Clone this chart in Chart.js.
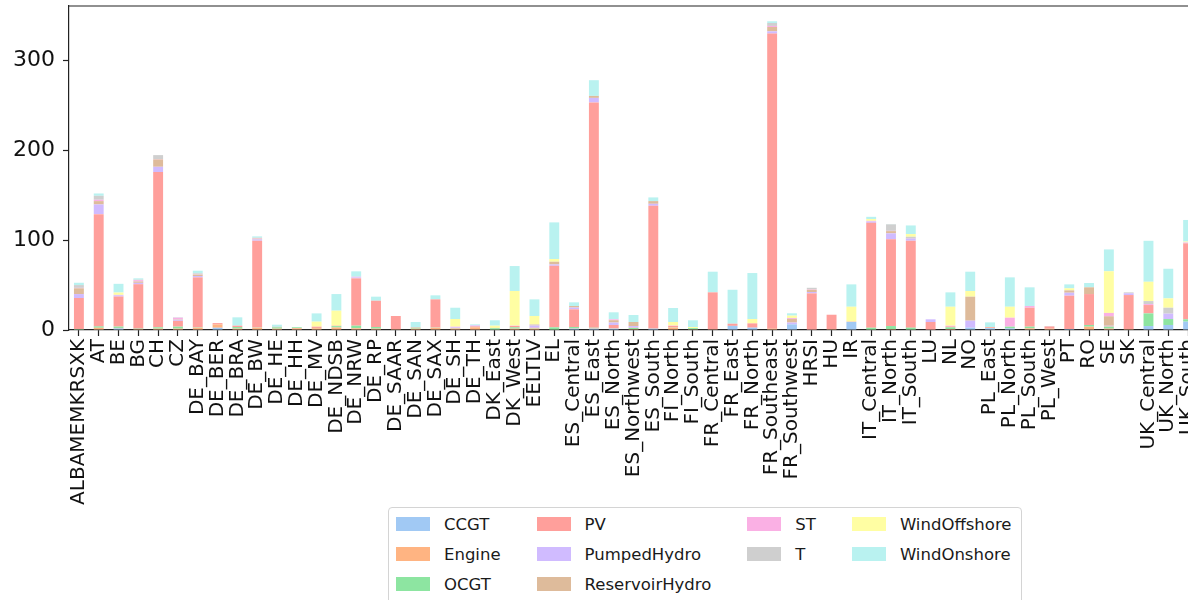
<!DOCTYPE html>
<html>
<head>
<meta charset="utf-8">
<title>Capacity by zone and technology</title>
<script src="https://cdn.jsdelivr.net/npm/chart.js@4.4.1/dist/chart.umd.min.js"></script>
<style>
  html, body { margin: 0; padding: 0; background: #fff; overflow: hidden; }
  #wrap { position: relative; width: 1188px; height: 600px; overflow: hidden; }
  #chart { position: absolute; left: 0; top: 0; }
  #legend {
    position: absolute; left: 388px; top: 507px; height: 110px;
    box-sizing: border-box; padding: 1px 10px 0 7px;
    border: 1px solid #d4d4d4; border-radius: 4px; background: #fff;
    display: grid; grid-template-rows: repeat(3, 30px);
    column-gap: 36px;
    font-family: 'DejaVu Sans', sans-serif; font-size: 16.5px; color: #1a1a1a;
  }
  #legend .item { display: flex; align-items: center; white-space: nowrap; }
  #legend .swatch { display: inline-block; width: 34px; height: 14px; margin-right: 14px; }
</style>
</head>
<body>
<div id="wrap">
  <canvas id="chart" width="1212" height="600"></canvas>
  <div id="legend"></div>
</div>
<script>
// zones along the x axis
var ZONES = ['ALBAMEMKRSXK', 'AT', 'BE', 'BG', 'CH', 'CZ', 'DE_BAY', 'DE_BER', 'DE_BRA', 'DE_BW',
  'DE_HE', 'DE_HH', 'DE_MV', 'DE_NDSB', 'DE_NRW', 'DE_RP', 'DE_SAAR', 'DE_SAN', 'DE_SAX', 'DE_SH',
  'DE_TH', 'DK_East', 'DK_West', 'EELTLV', 'EL', 'ES_Central', 'ES_East', 'ES_North', 'ES_Northwest',
  'ES_South', 'FI_North', 'FI_South', 'FR_Central', 'FR_East', 'FR_North', 'FR_Southeast',
  'FR_Southwest', 'HRSI', 'HU', 'IR', 'IT_Central', 'IT_North', 'IT_South', 'LU', 'NL', 'NO',
  'PL_East', 'PL_North', 'PL_South', 'PL_West', 'PT', 'RO', 'SE', 'SK', 'UK_Central', 'UK_North',
  'UK_South'];

// one value per zone (stack order = list order)
var CCGT = [0, 0, 1.8, 0, 0, 0, 0, 2.5, 0, 0,
  0, 0, 0, 0, 0, 0, 0, 0, 0, 0,
  0, 0, 0, 0, 0, 1.5, 1.5, 1.5, 0, 1.5,
  0, 0, 0, 4.6, 2.6, 0, 6.3, 0, 0, 9,
  0, 0, 0, 0, 0, 2.6, 2, 1.8, 0, 0,
  1.1, 0, 0, 0, 4.4, 5.6, 9.3];
var ENGINE = [0.5, 2.5, 0.5, 1, 1.5, 1.5, 2.6, 3.7, 1.5, 2.5,
  1.5, 2, 2, 2.8, 1.9, 1.5, 1, 1.5, 2.5, 1.5,
  3, 0.5, 1.5, 1.5, 0.5, 0.3, 0.5, 0.4, 1, 0.3,
  2.8, 0.8, 0.8, 0, 0, 1.5, 0, 0.5, 1, 0,
  0.5, 1, 0.5, 0.5, 1.1, 0, 0.5, 0, 1.8, 1.5,
  0, 3.7, 1.5, 1, 0, 0, 0];
var OCGT = [0.5, 1.5, 1.5, 0.5, 1.5, 2.2, 0.5, 0, 1.8, 0.3,
  1.5, 1, 0.3, 1.5, 2.9, 1.8, 0, 1, 0.3, 0.3,
  0, 1.5, 1.5, 0.5, 2.5, 1.5, 0.5, 0, 1.3, 0,
  0.3, 1.3, 0, 0, 0, 0, 0, 0, 0, 0,
  2, 3.4, 2.1, 0, 1.9, 0, 0, 1.9, 1.9, 0,
  0, 1.9, 2.2, 0, 14.1, 6.6, 2.6];
var PV = [34.6, 125, 33.5, 49.5, 172.8, 6.5, 55.5, 1.5, 1.5, 96.6,
  0.5, 0, 1.4, 0.5, 52.7, 29.3, 14.6, 0.5, 31.3, 0.5,
  1, 0.3, 1.5, 0.5, 68.5, 19.7, 250.8, 3.7, 0.3, 136.5,
  1.5, 0, 41.1, 2.4, 4.8, 328.5, 0, 40.3, 16, 0.3,
  116.8, 96.5, 96.8, 8.4, 1, 0, 0.8, 0, 21.1, 2.5,
  37.1, 34.4, 0.5, 37.9, 9.3, 0, 84.6];
var PUMPED_HYDRO = [4.4, 10.8, 1.3, 1.5, 5.9, 1.2, 1.5, 0, 0, 1.5,
  0, 0, 0, 0, 1, 0, 0, 0, 0, 0.7,
  1, 0, 0, 2.5, 1.5, 2, 5.1, 2.7, 1.8, 2.2,
  0, 0, 0, 0, 0, 2.5, 2, 1.5, 0, 0,
  1.5, 6.7, 2.5, 3, 0, 7.8, 0, 0, 0, 0,
  3.3, 0, 0.5, 2, 0, 6, 0.5];
var RESERVOIR_HYDRO = [6.4, 3.7, 0, 1.5, 8.2, 0.5, 1.5, 0, 0, 0.8,
  0, 0, 0, 0, 0, 0, 0, 0, 0, 0,
  0, 0, 0, 1, 3, 1.7, 2.2, 2.6, 4.5, 3,
  0, 0, 0, 0, 0, 4.8, 4.1, 2.5, 0, 0,
  0, 2.5, 0.5, 0, 0, 26.7, 0, 0, 0, 0,
  2.6, 7.5, 10.6, 0, 0, 0, 0];
var ST = [0.5, 1.5, 0.5, 1.5, 0.5, 1.8, 0.3, 0, 0, 0.5,
  0, 0, 0, 0, 0.8, 0, 0, 0, 0, 0.7,
  0.3, 0, 0.3, 0, 0, 0, 0, 1, 0, 0,
  0.3, 0, 0, 0, 0, 1.2, 1, 0.5, 0, 0,
  0.7, 0.3, 0, 0, 0.8, 0, 0, 10, 1.9, 0,
  0, 0, 3.7, 0, 1.1, 0, 0.5];
var T = [3.1, 4.4, 0, 0.5, 4.3, 0.3, 1.2, 0, 0, 0.5,
  0, 0, 0, 0, 0, 0, 0, 0, 0, 0,
  0, 0, 0, 0.3, 0, 0, 0, 0, 0, 0,
  0, 0, 0, 0, 0, 3.3, 0, 1.7, 0, 0,
  0, 7.2, 1.4, 0, 0, 0, 0, 0, 0, 0,
  0, 0, 0, 1, 3.3, 6.6, 0];
var WIND_OFFSHORE = [0, 0, 2.6, 0, 0, 0, 0, 0, 0, 0,
  0, 0, 5.6, 16.7, 0, 0, 0, 0, 0, 8.5,
  0, 2.5, 38.6, 9.3, 3, 0, 0, 0, 0, 0,
  4, 1.2, 0, 0, 4.8, 0, 2.6, 0, 0, 16.6,
  2, 0, 3, 0, 21.1, 6.3, 0, 12.2, 0, 0,
  2.3, 0, 46.4, 0, 21.5, 10.4, 1];
var WIND_ONSHORE = [2.6, 2.6, 9.7, 1.5, 0, 0.3, 2.9, 0, 9.3, 1.5,
  2.4, 0.3, 9.2, 18.5, 6, 4.5, 0, 5.9, 4.5, 12.6,
  1, 6, 27.8, 18.5, 40.8, 4.1, 17.5, 7.8, 7.8, 4.1,
  15.6, 7.5, 23, 37.8, 51.2, 1.9, 2.6, 0, 0, 24.9,
  2.5, 0.3, 9.6, 0, 16, 21.5, 5.2, 32.7, 20.8, 0.4,
  4.4, 4.8, 24.3, 0, 45.6, 33, 24];

var TECHS = ['CCGT', 'Engine', 'OCGT', 'PV', 'PumpedHydro', 'ReservoirHydro', 'ST', 'T',
  'WindOffshore', 'WindOnshore'];
var TECH_VALUES = [CCGT, ENGINE, OCGT, PV, PUMPED_HYDRO, RESERVOIR_HYDRO, ST, T,
  WIND_OFFSHORE, WIND_ONSHORE];
// seaborn "pastel"
var TECH_COLORS = ['#a1c9f4', '#ffb482', '#8de5a1', '#ff9f9b', '#d0bbff', '#debb9b', '#fab0e4',
  '#cfcfcf', '#fffea3', '#b9f2f0'];

var Y_MAX = 360.7;
var Y_TICK_STEP = 100;

(function () {
  'use strict';

  var FONT = "'DejaVu Sans', sans-serif";
  var INK = '#222';
  var LEGEND_COLS = 4;

  // matplotlib-style box: top and right spines
  var framePlugin = {
    id: 'frame',
    afterDraw: function (chart) {
      var a = chart.chartArea;
      var ctx = chart.ctx;
      ctx.save();
      ctx.strokeStyle = INK;
      ctx.lineWidth = 1.2;
      ctx.beginPath();
      ctx.moveTo(a.left, a.top);
      ctx.lineTo(a.right, a.top);
      ctx.lineTo(a.right, a.bottom);
      ctx.stroke();
      ctx.restore();
    }
  };

  // column-major fill like matplotlib's ncol legend (3,3,2,2 for 10 entries)
  function buildLegend() {
    var el = document.getElementById('legend');
    var n = TECHS.length;
    var rows = Math.ceil(n / LEGEND_COLS);
    var full = n % LEGEND_COLS || LEGEND_COLS;
    var col = 0, row = 0;
    TECHS.forEach(function (name, i) {
      var item = document.createElement('div');
      item.className = 'item';
      item.style.gridColumn = String(col + 1);
      item.style.gridRow = String(row + 1);
      var sw = document.createElement('span');
      sw.className = 'swatch';
      sw.style.background = TECH_COLORS[i];
      item.appendChild(sw);
      item.appendChild(document.createTextNode(name));
      el.appendChild(item);
      row++;
      if (row >= (col < full ? rows : rows - 1)) { row = 0; col++; }
    });
  }

  function noPad(s) {
    s.paddingTop = 0; s.paddingBottom = 0; s.paddingLeft = 0; s.paddingRight = 0;
  }

  function init() {
    var ctx = document.getElementById('chart').getContext('2d');
    new Chart(ctx, {
      type: 'bar',
      data: {
        labels: ZONES,
        datasets: TECHS.map(function (name, i) {
          return {
            label: name,
            data: TECH_VALUES[i],
            backgroundColor: TECH_COLORS[i],
            borderWidth: 0,
            categoryPercentage: 1,
            barPercentage: 0.5
          };
        })
      },
      options: {
        responsive: false,
        animation: false,
        layout: { padding: { top: 6, right: 14, left: 0, bottom: 0 } },
        plugins: {
          legend: { display: false },
          tooltip: { enabled: false }
        },
        scales: {
          x: {
            stacked: true,
            offset: true,
            grid: { drawOnChartArea: false, offset: false, tickLength: 6, tickWidth: 1.2, tickColor: INK },
            border: { display: true, color: INK, width: 1.2 },
            ticks: {
              autoSkip: false, maxRotation: 90, minRotation: 90, padding: 3,
              color: '#111', font: { family: FONT, size: 20 }
            },
            afterFit: function (s) { s.height = 270; noPad(s); }
          },
          y: {
            stacked: true,
            min: 0,
            max: Y_MAX,
            grid: { drawOnChartArea: false, tickLength: 6, tickWidth: 1.2, tickColor: INK },
            border: { display: true, color: INK, width: 1.2 },
            ticks: {
              stepSize: Y_TICK_STEP, includeBounds: false, padding: 8,
              color: '#111', font: { family: FONT, size: 22 }
            },
            afterFit: function (s) { s.width = 69; noPad(s); }
          }
        }
      },
      plugins: [framePlugin]
    });
  }

  buildLegend();
  init();
})();
</script>
</body>
</html>
